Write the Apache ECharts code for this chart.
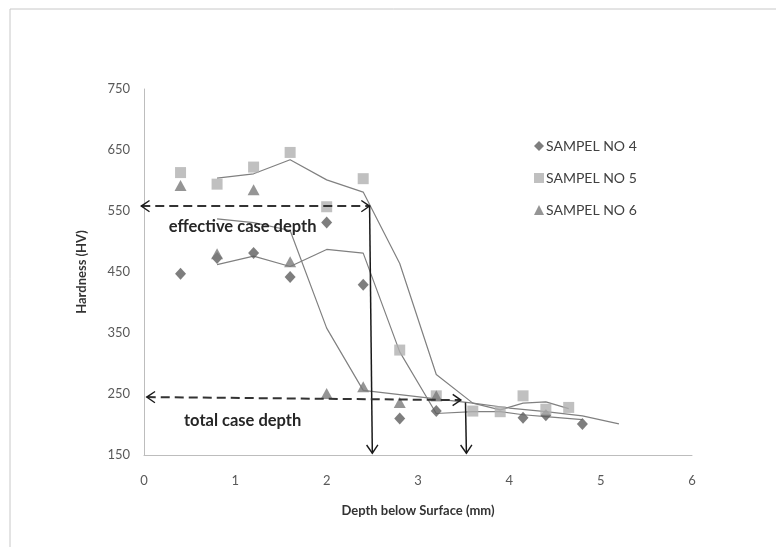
<!DOCTYPE html>
<html>
<head>
<meta charset="utf-8">
<script src="https://cdn.jsdelivr.net/npm/echarts@6/dist/echarts.min.js"></script>
<style>
  html, body { margin: 0; padding: 0; background: #fff; }
  #main { width: 776px; height: 547px; }
</style>
</head>
<body>
<div id="main"></div>
<script>
// depth (mm) / hardness (HV)
const s4Depth = [0.4, 0.8, 1.2, 1.6, 2.0, 2.4, 2.8, 3.2, 4.15, 4.4, 4.8];
const s4Hard  = [447, 473, 481, 442, 531, 429, 210, 222, 211, 215, 201];

const s5Depth = [0.4, 0.8, 1.2, 1.6, 2.0, 2.4, 2.8, 3.2, 3.6, 3.9, 4.15, 4.4, 4.65];
const s5Hard  = [613, 594, 622, 646, 557, 603, 322, 247, 222, 221, 247, 225, 228];

const s6Depth = [0.4, 0.8, 1.2, 1.6, 2.0, 2.4, 2.8, 3.2];
const s6Hard  = [592, 480, 585, 467, 251, 262, 236, 247];

// moving-average trend lines
const t4Depth = [0.8, 1.2, 1.6, 2.0, 2.4, 2.8, 3.2, 3.6, 3.9, 4.15, 4.4, 4.8];
const t4Hard  = [462, 476, 459, 487, 481, 319, 218, 221, 221, 216, 213, 208];
const t5Depth = [0.8, 1.2, 1.6, 2.0, 2.4, 2.8, 3.2, 3.6, 3.9, 4.15, 4.4, 4.65];
const t5Hard  = [604, 611, 634, 601, 581, 464, 282, 235, 224, 235, 237, 226];
const t6Depth = [0.8, 1.2, 1.6, 2.0, 2.4, 2.8, 3.2, 3.6, 4.0, 4.4, 4.8, 5.2];
const t6Hard  = [537, 531, 518, 358, 256, 249, 242, 235, 227, 221, 214, 201];

// annotation arrows: [x1, y1, x2, y2, dashed, headAtStart, headAtEnd]
const arrows = [
  [-0.03, 558, 2.47, 558, 1, 1, 1],
  [2.47, 558, 2.50, 153, 0, 0, 1],
  [0.03, 245, 3.47, 240, 1, 1, 1],
  [3.52, 236, 3.53, 153, 0, 0, 1]
];
const notes = [
  [1.08, 524, 'effective case depth'],
  [1.08, 207, 'total case depth']
];

const pairs = (xs, ys) => xs.map((x, i) => [x, ys[i]]);
const FONT = 'Lato';

const chart = echarts.init(document.getElementById('main'));

const trendLine = (name, xs, ys) => ({
  name: name,
  type: 'line',
  data: pairs(xs, ys),
  symbol: 'none',
  lineStyle: { color: '#808080', width: 1.2 },
  z: 3,
  silent: true
});

const option = {
  animation: false,
  textStyle: { fontFamily: FONT },
  graphic: [{
    type: 'rect',
    shape: { x: 10, y: 9, width: 820, height: 620 },
    style: { fill: 'none', stroke: '#c8c8c8', lineWidth: 1 }
  }],
  grid: { left: 144, right: 84, top: 89, bottom: 92 },
  legend: {
    orient: 'vertical',
    left: 529,
    top: 134,
    itemGap: 18,
    itemWidth: 10,
    itemHeight: 10,
    data: ['SAMPEL NO 4', 'SAMPEL NO 5', 'SAMPEL NO 6'],
    textStyle: { fontFamily: FONT, fontSize: 14, color: '#404040', padding: [0, 0, 0, -3] }
  },
  xAxis: {
    type: 'value',
    min: 0, max: 6, interval: 1,
    name: 'Depth below Surface (mm)',
    nameLocation: 'middle',
    nameGap: 49,
    nameTextStyle: { fontFamily: FONT, fontWeight: 'bold', fontSize: 13, color: '#333' },
    axisLine: { show: true, lineStyle: { color: '#bdbdbd' } },
    axisTick: { show: false },
    splitLine: { show: false },
    axisLabel: { color: '#595959', fontSize: 13, margin: 19, fontFamily: FONT }
  },
  yAxis: {
    type: 'value',
    min: 150, max: 750, interval: 100,
    name: 'Hardness (HV)',
    nameLocation: 'middle',
    nameRotate: 90,
    nameGap: 56,
    nameTextStyle: { fontFamily: FONT, fontWeight: 'bold', fontSize: 13, color: '#333' },
    axisLine: { show: true, lineStyle: { color: '#bdbdbd' } },
    axisTick: { show: false },
    splitLine: { show: false },
    axisLabel: { color: '#595959', fontSize: 13, margin: 14, fontFamily: FONT }
  },
  series: [
    {
      name: 'SAMPEL NO 4', type: 'scatter', symbol: 'diamond', symbolSize: [11, 12],
      itemStyle: { color: '#5e5e5e' }, data: pairs(s4Depth, s4Hard), z: 4
    },
    {
      name: 'SAMPEL NO 5', type: 'scatter', symbol: 'rect', symbolSize: 11,
      itemStyle: { color: '#b0b0b0' }, data: pairs(s5Depth, s5Hard), z: 4
    },
    {
      name: 'SAMPEL NO 6', type: 'scatter', symbol: 'triangle', symbolSize: [12, 11],
      itemStyle: { color: '#7b7b7b' }, data: pairs(s6Depth, s6Hard), z: 4
    },
    trendLine('trend 4', t4Depth, t4Hard),
    trendLine('trend 5', t5Depth, t5Hard),
    trendLine('trend 6', t6Depth, t6Hard),
    {
      name: 'arrows',
      type: 'custom',
      silent: true,
      z: 6,
      encode: { x: [0, 2], y: [1, 3] },
      data: arrows,
      renderItem: function (params, api) {
        const p1 = api.coord([api.value(0), api.value(1)]);
        const p2 = api.coord([api.value(2), api.value(3)]);
        const dashed = api.value(4) === 1;
        const a = Math.atan2(p2[1] - p1[1], p2[0] - p1[0]);
        const L = 10, th = 0.6;
        const head = (p, dir) => ({
          type: 'polyline',
          shape: {
            points: [
              [p[0] - dir * L * Math.cos(a - th), p[1] - dir * L * Math.sin(a - th)],
              p,
              [p[0] - dir * L * Math.cos(a + th), p[1] - dir * L * Math.sin(a + th)]
            ]
          },
          style: { stroke: '#1a1a1a', lineWidth: 1.4, fill: 'none' }
        });
        const children = [{
          type: 'line',
          shape: { x1: p1[0], y1: p1[1], x2: p2[0], y2: p2[1] },
          style: {
            stroke: dashed ? '#333' : '#1a1a1a',
            lineWidth: dashed ? 2 : 1.5,
            lineDash: dashed ? [9, 5] : null
          }
        }];
        if (api.value(5) === 1) children.push(head(p1, -1));
        if (api.value(6) === 1) children.push(head(p2, 1));
        return { type: 'group', children: children };
      }
    },
    {
      name: 'notes',
      type: 'custom',
      silent: true,
      z: 7,
      encode: { x: 0, y: 1 },
      data: notes,
      renderItem: function (params, api) {
        const p = api.coord([api.value(0), api.value(1)]);
        return {
          type: 'text',
          x: p[0], y: p[1],
          style: {
            text: notes[params.dataIndex][2],
            fontFamily: FONT, fontWeight: 'bold', fontSize: 16.5,
            fill: '#262626', align: 'center', verticalAlign: 'middle'
          }
        };
      }
    }
  ]
};

chart.setOption(option);
</script>
</body>
</html>
